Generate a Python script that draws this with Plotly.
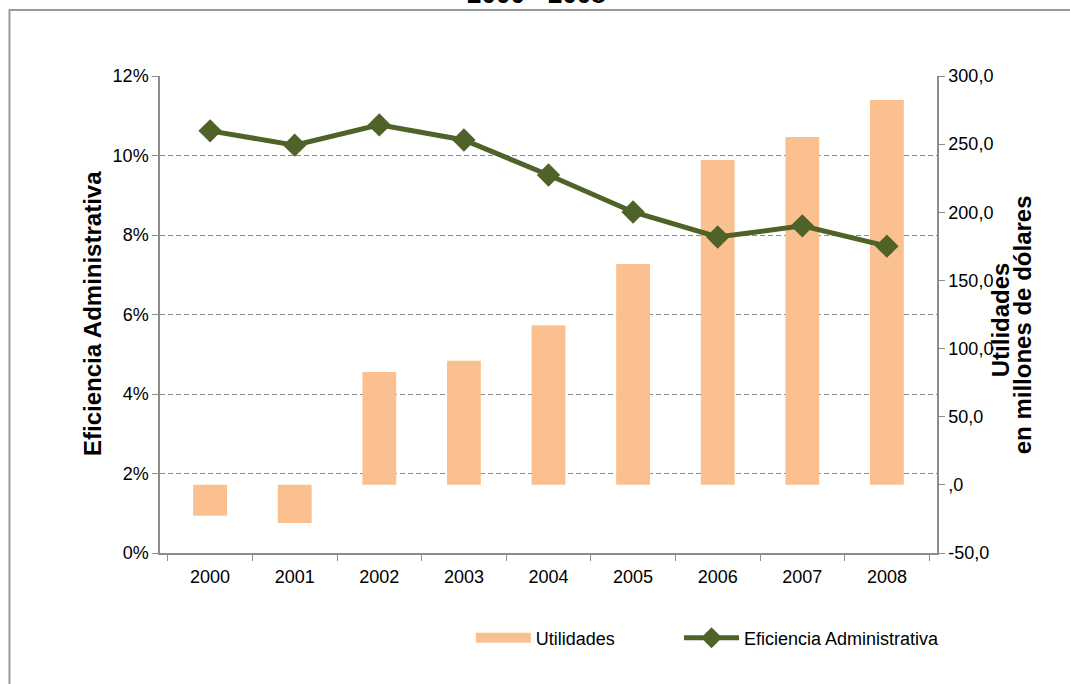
import plotly.graph_objects as go

years = ["2000", "2001", "2002", "2003", "2004", "2005", "2006", "2007", "2008"]
utilidades = [-22.7, -27.9, 82.9, 91.0, 117.2, 162.0, 238.3, 255.2, 282.4]
eficiencia = [0.1062, 0.1026, 0.1077, 0.1039, 0.0951, 0.0858, 0.0795, 0.0823, 0.0772]
right_ticks = [-50, 0, 50, 100, 150, 200, 250, 300]
right_labels = ["-50,0", ",0", "50,0", "100,0", "150,0", "200,0", "250,0", "300,0"]

FONT = "Liberation Sans, Arial, sans-serif"
AXC = "#8c8c8c"
BAR_C = "#FAC090"
LINE_C = "#4F6228"

fig = go.Figure()
fig.add_trace(go.Bar(
    x=years, y=utilidades, name="Utilidades", yaxis="y", showlegend=False,
    marker=dict(color=BAR_C, line=dict(width=0)), width=0.4,
))
# legend-only entry with a wide swatch, as in the reference
fig.add_trace(go.Scatter(
    x=[None], y=[None], name="Utilidades", yaxis="y", mode="lines",
    line=dict(color=BAR_C, width=10), showlegend=True, legend="legend",
))
fig.add_trace(go.Scatter(
    x=years, y=eficiencia, name="Eficiencia Administrativa", yaxis="y2",
    mode="lines+markers", legend="legend2",
    line=dict(color=LINE_C, width=5),
    marker=dict(symbol="diamond", size=18, color=LINE_C),
))

leg_common = dict(orientation="h", y=-0.1395, xanchor="left", yanchor="top",
                  font=dict(size=18), itemwidth=55, bgcolor="rgba(0,0,0,0)")

fig.update_layout(
    width=1070, height=684,
    margin=dict(l=160, r=133, t=76, b=131, autoexpand=False),
    paper_bgcolor="white", plot_bgcolor="white",
    font=dict(family=FONT, size=18, color="black"),
    showlegend=True,
    legend=dict(x=0.400, **leg_common),
    legend2=dict(x=0.668, **leg_common),
    xaxis=dict(type="category", showline=True, linecolor=AXC, linewidth=1.5,
               ticks="outside", tickcolor=AXC, ticklen=6, tickson="boundaries",
               ticklabelstandoff=7,
               showgrid=False, tickfont=dict(size=18)),
    yaxis=dict(side="right", range=[-50, 300], tickvals=right_ticks, ticktext=right_labels,
               showline=True, linecolor=AXC, linewidth=1.5, ticks="outside",
               tickcolor=AXC, ticklen=6, showgrid=False, zeroline=False,
               tickfont=dict(size=18)),
    yaxis2=dict(overlaying="y", side="left", range=[0, 0.12], dtick=0.02, tickformat=".0%",
                showline=True, linecolor=AXC, linewidth=1.5, ticks="outside",
                tickcolor=AXC, ticklen=6, showgrid=True, gridcolor="#8c8c8c",
                griddash="5px,3px", gridwidth=1, zeroline=False, tickfont=dict(size=18)),
    annotations=[
        dict(text="<b>2000 - 2008</b>", xref="paper", yref="paper", x=0.484, y=1.1373,
             xanchor="center", yanchor="bottom", showarrow=False,
             font=dict(size=26, family=FONT)),
        dict(text="<b>Eficiencia Administrativa</b>", xref="paper", yref="paper",
             x=-0.0875, y=0.501, xanchor="center", yanchor="middle", textangle=-90,
             showarrow=False, font=dict(size=24, family=FONT)),
        dict(text="<b>Utilidades</b>", xref="paper", yref="paper",
             x=1.0811, y=0.488, xanchor="center", yanchor="middle", textangle=-90,
             showarrow=False, font=dict(size=24, family=FONT)),
        dict(text="<b>en millones de dólares</b>", xref="paper", yref="paper",
             x=1.111, y=0.478, xanchor="center", yanchor="middle", textangle=-90,
             showarrow=False, font=dict(size=24, family=FONT)),
    ],
    shapes=[
        dict(type="rect", xref="paper", yref="paper", x0=-0.1937, y0=-0.4, x1=1.3, y1=1.1384,
             line=dict(color="#999999", width=2), fillcolor="rgba(0,0,0,0)", layer="below"),
    ],
)

fig.write_html("out.html",
               config={"displayModeBar": False},
               post_script="document.body.style.margin='0';document.body.style.overflow='hidden';")
